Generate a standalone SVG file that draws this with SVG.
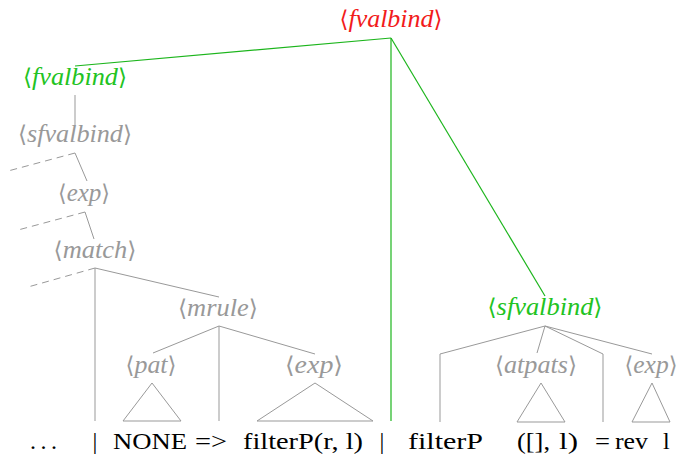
<svg xmlns="http://www.w3.org/2000/svg" width="678" height="455" viewBox="0 0 678 455">
<style>
.lbl{font-family:"Liberation Serif","DejaVu Serif",serif;font-style:italic;font-size:26px;text-anchor:middle}
.br{font-family:"DejaVu Sans","Liberation Serif",serif;font-style:normal;font-size:23px}
.red{fill:#f21b1b}
.grn{fill:#22c322}
.gry{fill:#999999}
.tok{font-family:"Liberation Serif","DejaVu Serif",serif;font-size:24px;fill:#000}
.gl{stroke:#1cb51c;stroke-width:1.2;fill:none}
.ln{stroke:#999999;stroke-width:1;fill:none}
.ds{stroke:#999999;stroke-width:1;fill:none;stroke-dasharray:7 5}
</style>
<rect width="678" height="455" fill="#fff"/>
<g id="connectors">
<line class="gl" x1="391" y1="38" x2="75" y2="66"/>
<line class="gl" x1="391" y1="38" x2="391" y2="421"/>
<line class="gl" x1="391" y1="38" x2="545" y2="296"/>
<line class="ln" x1="75" y1="95" x2="75" y2="125"/>
<line class="ln" x1="75" y1="153" x2="87" y2="181"/>
<line class="ds" x1="75" y1="153" x2="8" y2="171"/>
<line class="ln" x1="85" y1="212" x2="94" y2="239"/>
<line class="ds" x1="85" y1="212" x2="18" y2="230"/>
<line class="ln" x1="95" y1="268" x2="95" y2="421"/>
<line class="ln" x1="95" y1="268" x2="219" y2="297"/>
<line class="ds" x1="95" y1="268" x2="28" y2="287"/>
<line class="ln" x1="219" y1="326" x2="153" y2="353"/>
<line class="ln" x1="219" y1="326" x2="219" y2="421"/>
<line class="ln" x1="219" y1="326" x2="315" y2="354"/>
<polyline class="ln" points="545,326 440,354 440,422"/>
<line class="ln" x1="545" y1="326" x2="537" y2="353"/>
<polyline class="ln" points="545,326 603,354 603,422"/>
<line class="ln" x1="545" y1="326" x2="652" y2="354"/>
</g>
<g id="n-fvalbind-root"><text class="lbl red" x="391" y="27" textLength="103" lengthAdjust="spacingAndGlyphs"><tspan class="br">⟨</tspan>fvalbind<tspan class="br">⟩</tspan></text></g>
<g id="n-fvalbind-left"><text class="lbl grn" x="75" y="85" textLength="104" lengthAdjust="spacingAndGlyphs"><tspan class="br">⟨</tspan>fvalbind<tspan class="br">⟩</tspan></text></g>
<g id="n-sfvalbind-left"><text class="lbl gry" x="75" y="142" textLength="114" lengthAdjust="spacingAndGlyphs"><tspan class="br">⟨</tspan>sfvalbind<tspan class="br">⟩</tspan></text></g>
<g id="n-exp1"><text class="lbl gry" x="84" y="201" textLength="52" lengthAdjust="spacingAndGlyphs"><tspan class="br">⟨</tspan>exp<tspan class="br">⟩</tspan></text></g>
<g id="n-match"><text class="lbl gry" x="95" y="258" textLength="83" lengthAdjust="spacingAndGlyphs"><tspan class="br">⟨</tspan>match<tspan class="br">⟩</tspan></text></g>
<g id="n-mrule"><text class="lbl gry" x="218" y="316" textLength="80" lengthAdjust="spacingAndGlyphs"><tspan class="br">⟨</tspan>mrule<tspan class="br">⟩</tspan></text></g>
<g id="n-pat"><text class="lbl gry" x="151" y="373" textLength="51" lengthAdjust="spacingAndGlyphs"><tspan class="br">⟨</tspan>pat<tspan class="br">⟩</tspan></text>
<polygon class="ln" points="152,383 123,421 181,421"/></g>
<g id="n-exp2"><text class="lbl gry" x="314" y="373" textLength="58" lengthAdjust="spacingAndGlyphs"><tspan class="br">⟨</tspan>exp<tspan class="br">⟩</tspan></text>
<polygon class="ln" points="315,383 257,421 373,421"/></g>
<g id="n-sfvalbind-right"><text class="lbl grn" x="545" y="315" textLength="115" lengthAdjust="spacingAndGlyphs"><tspan class="br">⟨</tspan>sfvalbind<tspan class="br">⟩</tspan></text></g>
<g id="n-atpats"><text class="lbl gry" x="536" y="373" textLength="82" lengthAdjust="spacingAndGlyphs"><tspan class="br">⟨</tspan>atpats<tspan class="br">⟩</tspan></text>
<polygon class="ln" points="541,383 517,422 565,422"/></g>
<g id="n-exp3"><text class="lbl gry" x="651" y="373" textLength="53" lengthAdjust="spacingAndGlyphs"><tspan class="br">⟨</tspan>exp<tspan class="br">⟩</tspan></text>
<polygon class="ln" points="652,383 632,422 670,422"/></g>
<g id="tokens">
<text class="tok" x="30" y="449" textLength="27" lengthAdjust="spacing">. . .</text>
<text class="tok" x="95" y="449" text-anchor="middle">|</text>
<text class="tok" x="113" y="449" textLength="74" lengthAdjust="spacingAndGlyphs">NONE</text>
<text class="tok" x="195" y="449" textLength="32" lengthAdjust="spacingAndGlyphs">=&gt;</text>
<text class="tok" x="243" y="449" textLength="120" lengthAdjust="spacingAndGlyphs">filterP(r, l)</text>
<text class="tok" x="382" y="449" text-anchor="middle">|</text>
<text class="tok" x="408" y="449" textLength="75" lengthAdjust="spacingAndGlyphs">filterP</text>
<text class="tok" x="517" y="449" textLength="33" lengthAdjust="spacingAndGlyphs">([],</text>
<text class="tok" x="559" y="449" textLength="19" lengthAdjust="spacingAndGlyphs">l)</text>
<text class="tok" x="595" y="449" textLength="15" lengthAdjust="spacingAndGlyphs">=</text>
<text class="tok" x="615" y="449" textLength="33" lengthAdjust="spacingAndGlyphs">rev</text>
<text class="tok" x="663" y="449">l</text>
</g>
</svg>
